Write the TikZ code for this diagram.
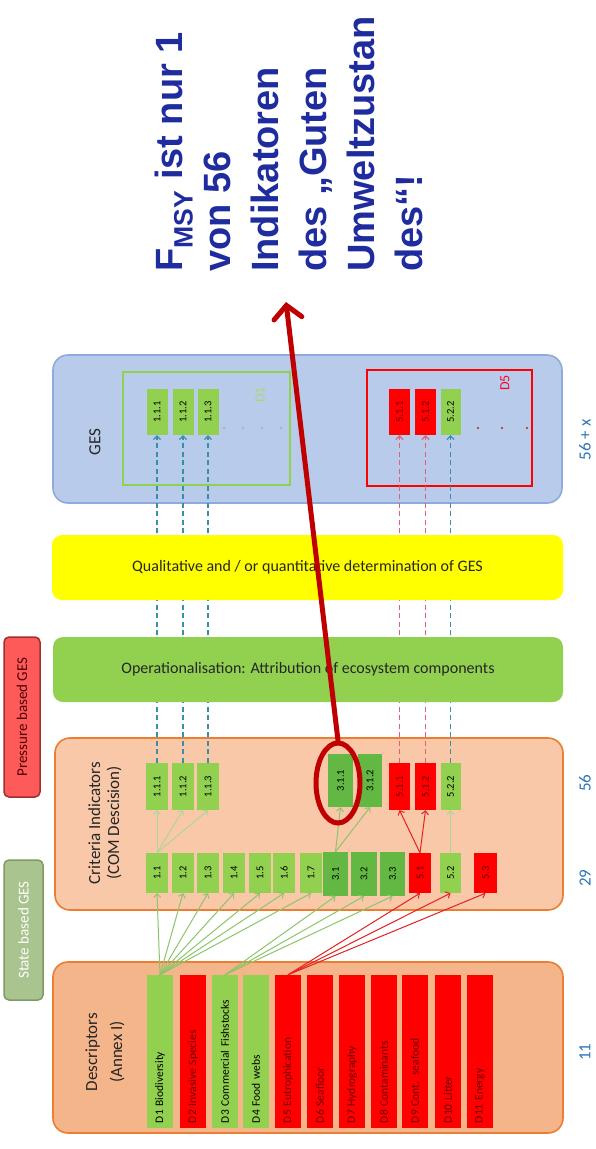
\documentclass[tikz,border=0pt]{standalone}
\usepackage{fontspec}
\setmainfont{Carlito}
\newfontfamily\headfont{Liberation Sans}
\usetikzlibrary{arrows.meta,shapes.geometric}

\definecolor{peachA}{HTML}{F4B58A}
\definecolor{peachB}{HTML}{F8C8A8}
\definecolor{orangeline}{HTML}{ED7D31}
\definecolor{lgreen}{HTML}{92D050}
\definecolor{mgreen}{HTML}{63B843}
\definecolor{pred}{HTML}{FF0000}
\definecolor{darkred}{HTML}{C00000}
\definecolor{gesfill}{HTML}{B8CBEA}
\definecolor{gesline}{HTML}{8FAADC}
\definecolor{yband}{HTML}{FFFF00}
\definecolor{dteal}{HTML}{3A8FA8}
\definecolor{dpink}{HTML}{E0607A}
\definecolor{numblue}{HTML}{2E75B6}
\definecolor{headblue}{HTML}{1E2C9E}
\definecolor{stfill}{HTML}{A9C48E}
\definecolor{stline}{HTML}{7E9C62}
\definecolor{prfill}{HTML}{FF5A5A}
\definecolor{prline}{HTML}{A03030}
\definecolor{linkgreen}{HTML}{8CC66A}
\definecolor{linkred}{HTML}{E52020}
\definecolor{redtext}{HTML}{6A0000}

\tikzset{
  panel/.style={draw=orangeline, line width=1.6pt, rounded corners=15pt, inner sep=0pt},
  band/.style={rounded corners=10pt, inner sep=0pt, text=black!85, font=\fontsize{16}{19}\selectfont},
  tag/.style={rotate=90, rounded corners=5pt, line width=1.5pt, inner sep=0pt, font=\fontsize{15}{17}\selectfont},
  cellbox/.style={rotate=90, inner sep=0pt, font=\fontsize{10.5}{11}\selectfont},
  gcell/.style={fill=lgreen, text=black},
  mcell/.style={fill=mgreen, text=black},
  rcell/.style={fill=pred, text=redtext},
  bar/.style={rotate=90, inner xsep=5pt, inner ysep=0pt, minimum width=153pt, minimum height=26pt,
              text width=143pt, align=left, font=\fontsize{11.5}{13}\selectfont},
  vlabel/.style={rotate=90, align=center, text=black!85, font=\fontsize{17}{19}\selectfont},
  count/.style={rotate=90, text=numblue, font=\fontsize{17}{19}\selectfont},
  tipsmall/.style={-{Straight Barb[length=3.5pt,width=7pt]}},
  gesdash/.style={dteal, line width=1.2pt, dash pattern=on 5pt off 3.5pt, tipsmall},
  gesdashred/.style={dpink, line width=1.2pt, dash pattern=on 5pt off 3.5pt, tipsmall},
  glink/.style={linkgreen, line width=1pt, tipsmall},
  rlink/.style={linkred, line width=1pt, tipsmall},
  dotmark/.style={circle, fill=#1, inner sep=0pt, minimum size=2.6pt},
}

% name, centre x, centre y, width, height, style, label
\newcommand\mkcell[7]{\node[cellbox, #6, minimum width=#5pt, minimum height=#4pt] (#1) at (#2,#3) {#7};}

\begin{document}
\begin{tikzpicture}[x=1pt,y=-1pt]
\useasboundingbox (0,0) rectangle (596,1149);
\fill[white] (0,0) rectangle (596,1149);

% side tags
\node[tag, fill=prfill, draw=prline, text=red!30!black, minimum width=160pt, minimum height=36pt] (press) at (22,717) {Pressure based GES};
\node[tag, fill=stfill, draw=stline, text=white, minimum width=140pt, minimum height=39pt] (state) at (23.5,930) {State based GES};

% main panels
\node[panel, fill=peachA, minimum width=510pt, minimum height=171pt] (desc) at (308,1047.5) {};
\node[panel, fill=peachB, minimum width=508pt, minimum height=172pt] (crit) at (309,824) {};
\node[panel, fill=gesfill, draw=gesline, minimum width=509pt, minimum height=148pt] (ges) at (307.5,429) {};

\node[vlabel, font=\fontsize{17}{25}\selectfont] (desclab) at (105,1052) {Descriptors\\(Annex I)};
\node[vlabel] (critlab) at (105,823) {Criteria Indicators\\(COM Descision)};
\node[vlabel] (geslab) at (95,442) {GES};

% GES groups
\node[draw=lgreen, line width=2pt, minimum width=167pt, minimum height=113pt, inner sep=0pt] (d1frame) at (206.5,428.5) {};
\node[draw=pred, line width=2pt, minimum width=165pt, minimum height=116pt, inner sep=0pt] (d5frame) at (449.5,428) {};
\node[rotate=90, text=lgreen!80!white, font=\fontsize{14}{16}\selectfont] (d1lab) at (260,395) {D1};
\node[rotate=90, text=pred!85!magenta, font=\fontsize{14}{16}\selectfont] (d5lab) at (505,383) {D5};
\foreach \x in {224,243,262,281} \node[dotmark=gray!60] at (\x,428) {};
\foreach \x in {478,502,527} \node[dotmark=red!40!gray] at (\x,428) {};

% descriptors
\node[bar, fill=lgreen, text=black] (d1) at (160,1051.5) {D1 Biodiversity};
\node[bar, fill=pred, text=redtext] (d2) at (193,1051.5) {D2 Invasive Species};
\node[bar, fill=lgreen, text=black] (d3) at (225,1051.5) {D3 Commercial Fishstocks};
\node[bar, fill=lgreen, text=black] (d4) at (256,1051.5) {D4 Food webs};
\node[bar, fill=pred, text=redtext] (d5) at (288,1051.5) {D5 Eutrophication};
\node[bar, fill=pred, text=redtext] (d6) at (320,1051.5) {D6 Seafloor};
\node[bar, fill=pred, text=redtext] (d7) at (352,1051.5) {D7 Hydrography};
\node[bar, fill=pred, text=redtext] (d8) at (384,1051.5) {D8 Contaminants};
\node[bar, fill=pred, text=redtext] (d9) at (415,1051.5) {D9 Cont. seafood};
\node[bar, fill=pred, text=redtext] (d10) at (448,1051.5) {D10 Litter};
\node[bar, fill=pred, text=redtext] (d11) at (480,1051.5) {D11 Energy};

% criteria
\mkcell{c11}{157}{873}{22}{40}{gcell}{1.1}
\mkcell{c12}{183}{873}{22}{40}{gcell}{1.2}
\mkcell{c13}{208}{873}{22}{40}{gcell}{1.3}
\mkcell{c14}{234}{873}{22}{40}{gcell}{1.4}
\mkcell{c15}{260}{873}{22}{40}{gcell}{1.5}
\mkcell{c16}{284}{873}{22}{40}{gcell}{1.6}
\mkcell{c17}{311}{873}{22}{40}{gcell}{1.7}
\mkcell{c31}{335.5}{874}{25}{44}{mcell}{3.1}
\mkcell{c32}{364}{874}{26}{44}{mcell}{3.2}
\mkcell{c33}{392.5}{874}{25}{44}{mcell}{3.3}
\mkcell{c51}{420}{873}{22}{40}{rcell}{5.1}
\mkcell{c52}{450.5}{873}{21}{40}{gcell}{5.2}
\mkcell{c53}{485.5}{873}{23}{40}{rcell}{5.3}

% indicators
\mkcell{c111}{157}{786.5}{22}{47}{gcell}{1.1.1}
\mkcell{c112}{183}{786.5}{22}{47}{gcell}{1.1.2}
\mkcell{c113}{208}{786.5}{22}{47}{gcell}{1.1.3}
\mkcell{c311}{340.5}{780.5}{25}{53}{mcell}{3.1.1}
\mkcell{c312}{370}{780.5}{24}{53}{mcell}{3.1.2}
\mkcell{c511}{399.5}{786.5}{21}{47}{rcell}{5.1.1}
\mkcell{c512}{425.5}{786.5}{21}{47}{rcell}{5.1.2}
\mkcell{c522}{450.5}{786.5}{20}{47}{gcell}{5.2.2}

% GES indicators
\mkcell{g111}{157}{412}{21}{46}{gcell}{1.1.1}
\mkcell{g112}{183}{412}{21}{46}{gcell}{1.1.2}
\mkcell{g113}{208}{412}{21}{46}{gcell}{1.1.3}
\mkcell{g511}{399.5}{412}{21}{46}{rcell}{5.1.1}
\mkcell{g512}{425.5}{412}{21}{46}{rcell}{5.1.2}
\mkcell{g522}{450.5}{412}{20}{46}{gcell}{5.2.2}

% descriptor -> criterion links
\foreach \t in {c11,c12,c13,c14,c15,c16,c17} \draw[glink] (d1.east) -- (\t.west);
\foreach \t in {c31,c32,c33} \draw[glink] (d3.east) -- (\t.west);
\foreach \t in {c51,c52,c53} \draw[rlink] (d5.east) -- (\t.west);

% criterion -> indicator links
\foreach \t in {c111,c112,c113} \draw[glink, linkgreen!70!white] (c11.east) -- (\t.west);
\foreach \t in {c311,c312} \draw[glink] (c31.east) -- (\t.west);
\foreach \t in {c511,c512} \draw[rlink] (c51.east) -- (\t.west);
\draw[glink, linkgreen!70!white] (c52.east) -- (c522.west);

% indicator -> GES links
\draw[gesdash] (c111.east) -- (g111.west);
\draw[gesdash] (c112.east) -- (g112.west);
\draw[gesdash] (c113.east) -- (g113.west);
\draw[gesdashred] (c511.east) -- (g511.west);
\draw[gesdashred] (c512.east) -- (g512.west);
\draw[gesdash] (c522.east) -- (g522.west);

% process bands
\node[band, fill=yband, minimum width=511pt, minimum height=65pt] (qual) at (307.5,567.5) {Qualitative and / or quantitative determination of GES};
\node[band, fill=lgreen, minimum width=510pt, minimum height=65pt] (oper) at (308,669.5) {Operationalisation: Attribution of ecosystem components};

% counts
\node[count] (n11) at (585,1052) {11};
\node[count] (n29) at (585,878) {29};
\node[count] (n56) at (585,783) {56};
\node[count] (n56x) at (585,440) {56 + x};

% highlight of F_MSY
\node[ellipse, draw=darkred, line width=5pt, minimum width=44pt, minimum height=80pt, inner sep=0pt] (ring) at (338,783) {};
\coordinate (tip) at (286,302);
\draw[darkred, line width=5pt, line cap=round, -{Straight Barb[length=13pt,width=28pt,line cap=round]}] (ring.north) -- (tip);

\node[rotate=90, anchor=north west, inner sep=0pt, align=left, text=headblue,
      font=\headfont\bfseries\fontsize{38}{48}\selectfont] (msg) at (155,272)
  {F\textsubscript{MSY} ist nur 1\\von 56\\Indikatoren\\des „Guten\\Umweltzustan\\des“!};
\end{tikzpicture}
\end{document}
